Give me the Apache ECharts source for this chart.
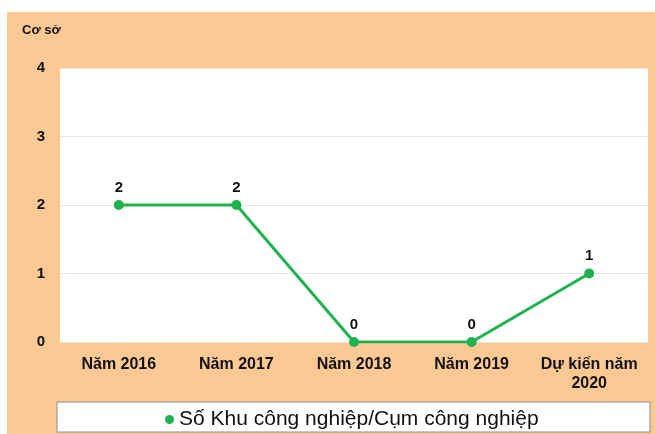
<!DOCTYPE html>
<html>
<head>
    <meta charset="UTF-8">
    <title>chart</title>
    <script src="https://cdn.jsdelivr.net/npm/echarts@6/dist/echarts.min.js"></script>
    <style>
        body, html {
            margin: 0;
            padding: 0;
            height: 100%;
            background: #fff;
        }

        #chart {
            width: 655px;
            height: 434px;
        }
    </style>
</head>
<body>
<div id="chart"></div>
<script>
    // du lieu
    var categories = ['Năm 2016', 'Năm 2017', 'Năm 2018', 'Năm 2019', 'Dự kiến năm\n2020'];
    var values = [2, 2, 0, 0, 1];
    var seriesName = 'Số Khu công nghiệp/Cụm công nghiệp';
    var yTicks = [0, 1, 2, 3, 4];

    var chart = echarts.init(document.getElementById('chart'), null, {renderer: 'canvas'});

    var option = {
        animation: false,
        textStyle: {fontFamily: 'Liberation Sans, Arial, sans-serif'},
        graphic: [
            {
                type: 'rect', z: -10,
                shape: {x: 7, y: 12, width: 648, height: 422},
                style: {fill: '#fcc995'}
            },
            {
                type: 'rect', z: -5,
                shape: {x: 57, y: 402, width: 593, height: 30},
                style: {fill: '#fff', stroke: '#8c8c8c', lineWidth: 1}
            },
            {
                type: 'text', left: 22, top: 24,
                style: {text: 'Cơ sở', font: 'bold 13px Liberation Sans, Arial, sans-serif', fill: '#111'}
            }
        ],
        legend: {
            data: [seriesName],
            top: 404,
            left: 160,
            icon: 'circle',
            itemWidth: 9,
            itemHeight: 9,
            itemGap: 2,
            textStyle: {fontSize: 21, color: '#111', fontFamily: 'Liberation Sans, Arial, sans-serif'}
        },
        grid: {
            left: 60, right: 7, top: 68, bottom: 92,
            show: true, backgroundColor: '#fff', borderWidth: 0
        },
        xAxis: {
            type: 'category',
            data: categories,
            boundaryGap: true,
            axisLine: {show: false},
            axisTick: {show: false},
            axisLabel: {
                interval: 0,
                hideOverlap: false,
                margin: 13,
                fontWeight: 'bold', fontSize: 16, color: '#111', lineHeight: 19
            }
        },
        yAxis: {
            type: 'value',
            min: yTicks[0],
            max: yTicks[yTicks.length - 1],
            interval: 1,
            axisLine: {show: false},
            axisTick: {show: false},
            axisLabel: {margin: 15, fontWeight: 'bold', fontSize: 15, color: '#111'},
            splitLine: {lineStyle: {color: '#e6e6e6'}}
        },
        series: [{
            name: seriesName,
            type: 'line',
            data: values,
            symbol: 'circle',
            symbolSize: 10,
            color: '#1fb24f',
            lineStyle: {width: 3, color: '#1fb24f'},
            label: {
                show: true, position: 'top', distance: 5,
                fontWeight: 'bold', fontSize: 15, color: '#111'
            }
        }]
    };
    chart.setOption(option);
</script>
</body>
</html>
